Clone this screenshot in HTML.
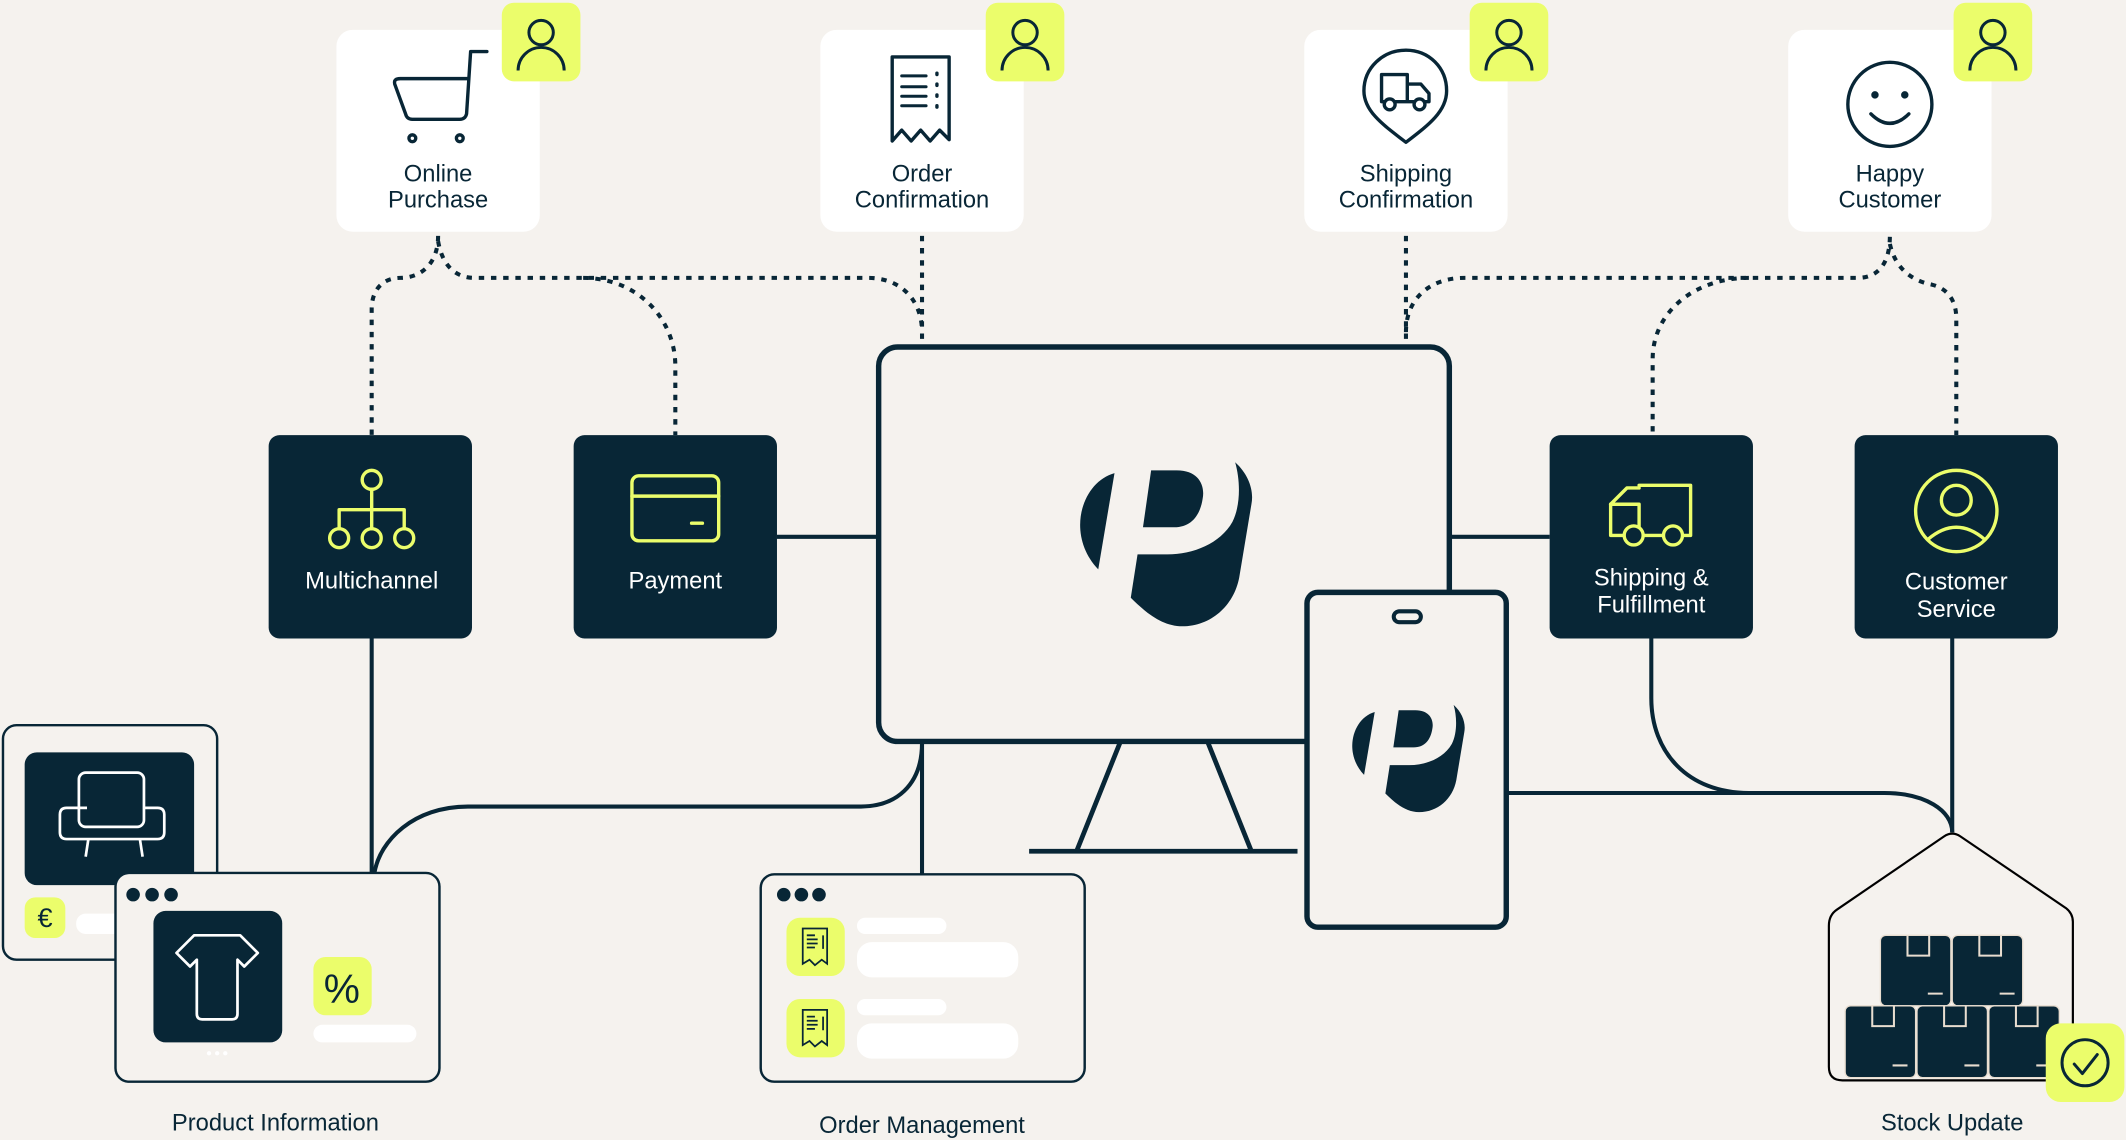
<!DOCTYPE html>
<html><head><meta charset="utf-8"><style>
html,body{margin:0;padding:0;background:#f5f2ee;}
svg{display:block;}
text{font-family:"Liberation Sans",sans-serif;}
</style></head><body>
<svg width="2126" height="1140" viewBox="0 0 1568 841" xmlns="http://www.w3.org/2000/svg" fill="#082636">
<rect width="1568" height="841" fill="#f5f2ee"/>
<defs>
<g id="user"><rect x="0" y="0" width="58" height="58" rx="9" fill="#ebfd6b"/><circle cx="29" cy="22" r="9" fill="none" stroke="#082636" stroke-width="2.2"/><path d="M12,50 A17,17 0 0 1 46,50" fill="none" stroke="#082636" stroke-width="2.2"/></g>
<g id="logo">
<path d="M822,349 C797,356 786,395 810,420 Z" fill="#082636"/>
<path d="M849,347 L868,347 C884,347 889,358 887,368 C885,381 878,389 866,389 L843,389 Z" fill="#082636"/>
<path d="M839,409 L861,409 C880,409 900,401 909,385 C915,373 915,355 911,341 C921,350 925,362 923,372 L914,426 C910,447 893,462 872,462 C858,462 846,453 834,441 Z" fill="#082636"/>
</g>
</defs>

<!-- dotted connectors -->
<g fill="none" stroke="#082636" stroke-width="3" stroke-dasharray="4,5">
<path d="M323,174 C323,195 310,205 295,205 C282,205 274,214 274,228 L274,321"/>
<path d="M323,178 C326,195 335,205 350,205 L640,205 C665,205 680,222 680,245"/>
<path d="M430,205 C470,205 498,235 498,270 L498,321"/>
<path d="M680,174 L680,255"/>
<path d="M1037,174 L1037,255"/>
<path d="M1037,245 C1037,220 1055,205 1080,205 L1370,205 C1385,205 1394,195 1394,174"/>
<path d="M1290,205 C1250,205 1219,230 1219,265 L1219,321"/>
<path d="M1394,180 C1398,198 1410,207 1425,210 C1437,213 1443,222 1443,235 L1443,321"/>
</g>

<!-- solid connectors -->
<g fill="none" stroke="#082636" stroke-width="3">
<path d="M573,396 L647,396"/>
<path d="M1070,396 L1143,396"/>
<path d="M274,471 L274,644"/>
<path d="M680,548 C680,580 660,595 635,595 L345,595 C305,595 280,620 276,644"/>
<path d="M680,548 L680,645"/>
<path d="M1111,585 L1290,585"/>
<path d="M1218,471 L1218,515 C1218,555 1245,585 1290,585 L1390,585 C1420,585 1440,598 1440,614"/>
<path d="M1440,471 L1440,614"/>
</g>

<!-- top cards -->
<g>
<rect x="248" y="22" width="150" height="149" rx="12" fill="#fff"/>
<rect x="605" y="22" width="150" height="149" rx="12" fill="#fff"/>
<rect x="962" y="22" width="150" height="149" rx="12" fill="#fff"/>
<rect x="1319" y="22" width="150" height="149" rx="12" fill="#fff"/>
<use href="#user" x="370" y="2"/>
<use href="#user" x="727" y="2"/>
<use href="#user" x="1084" y="2"/>
<use href="#user" x="1441" y="2"/>
</g>
<g fill="none" stroke="#082636" stroke-width="2.5" stroke-linecap="round" stroke-linejoin="round">
<!-- cart -->
<path d="M359,38 L347,38 L344,84 Q343,88 339,88 L304,88 Q300,88 299,84 L291,62 Q290,58 295,58 L345,58"/>
<circle cx="304" cy="102" r="2.5"/>
<circle cx="339" cy="102" r="2.5"/>
<!-- receipt -->
<path d="M658,42 L700,42 L700,103 L693,96 L686,104 L679,96 L672,104 L665,96 L658,104 Z"/>
<path d="M665,56 L683,56 M665,64 L683,64 M665,71 L683,71 M665,78 L683,78" stroke-width="2.2"/>
<path d="M691,54 L691,55 M691,62 L691,63 M691,70 L691,71 M691,78 L691,79" stroke-width="2.5"/>
<!-- shipping pin -->
<path d="M1037,105 C1020,92 1006,82 1006,67 C1006,50 1020,37 1037,37 C1054,37 1067,50 1067,67 C1067,82 1054,92 1037,105 Z"/>
<path d="M1019,55 L1038,55 L1038,75 L1019,75 Z M1038,62 L1048,62 L1054,69 L1054,75 L1038,75"/>
<circle cx="1025" cy="77" r="4" fill="#fff"/><circle cx="1047" cy="77" r="4" fill="#fff"/>
<!-- smiley -->
<circle cx="1394" cy="77" r="31"/>
<circle cx="1383" cy="70" r="1.5" fill="#082636"/><circle cx="1405" cy="70" r="1.5" fill="#082636"/>
<path d="M1380,84 Q1394,98 1408,84"/>
</g>
<g font-size="17.5" text-anchor="middle" style="fill:#082636">
<text x="323" y="134">Online</text><text x="323" y="153">Purchase</text>
<text x="680" y="134">Order</text><text x="680" y="153">Confirmation</text>
<text x="1037" y="134">Shipping</text><text x="1037" y="153">Confirmation</text>
<text x="1394" y="134">Happy</text><text x="1394" y="153">Customer</text>
</g>

<!-- dark boxes -->
<g fill="#082636">
<rect x="198" y="321" width="150" height="150" rx="8"/>
<rect x="423" y="321" width="150" height="150" rx="8"/>
<rect x="1143" y="321" width="150" height="150" rx="8"/>
<rect x="1368" y="321" width="150" height="150" rx="8"/>
</g>
<g fill="none" stroke="#ebfd6b" stroke-width="2.5" stroke-linecap="round" stroke-linejoin="round">
<circle cx="274" cy="354" r="7"/>
<path d="M274,361 L274,376 M250,390 L250,376 L298,376 L298,390 M274,376 L274,390"/>
<circle cx="250" cy="397" r="7"/><circle cx="274" cy="397" r="7"/><circle cx="298" cy="397" r="7"/>
<rect x="466" y="351" width="64" height="48" rx="5"/>
<path d="M466,366 L530,366 M510,386 L518,386"/>
<path d="M1188,372 L1209,372 L1209,395 L1188,395 Z M1209,358 L1247,358 L1247,395 L1209,395"/>
<path d="M1188,372 L1200,360 L1209,360"/>
<circle cx="1205" cy="395" r="7" fill="#082636"/><circle cx="1234" cy="395" r="7" fill="#082636"/>
<circle cx="1443" cy="377" r="30"/>
<circle cx="1443" cy="369" r="11"/>
<path d="M1422,398 Q1443,380 1464,398"/>
</g>
<g font-size="17.5" text-anchor="middle" style="fill:#ffffff">
<text x="274" y="434">Multichannel</text>
<text x="498" y="434">Payment</text>
<text x="1218" y="432">Shipping &amp;</text>
<text x="1218" y="452">Fulfillment</text>
<text x="1443" y="435">Customer</text>
<text x="1443" y="455">Service</text>
</g>

<!-- monitor -->
<rect x="648" y="256" width="421" height="291" rx="14" fill="#f5f2ee" stroke="#082636" stroke-width="4"/>
<path d="M826,548 L794,628 M891,548 L923,628 M759,628 L957,628" stroke="#082636" stroke-width="3.5" fill="none"/>
<use href="#logo"/>
<!-- phone -->
<rect x="964" y="437" width="147" height="247" rx="8" fill="#f5f2ee" stroke="#082636" stroke-width="4"/>
<rect x="1028" y="451" width="20" height="8" rx="4" fill="none" stroke="#082636" stroke-width="3"/>
<use href="#logo" transform="translate(995,520) scale(0.654) translate(-793,-341)"/>

<!-- product information -->
<rect x="2" y="535" width="158" height="173" rx="10" fill="#f5f2ee" stroke="#082636" stroke-width="1.8"/>
<rect x="18" y="555" width="125" height="98" rx="9" fill="#082636"/>
<g fill="none" stroke="#fff" stroke-width="2" stroke-linejoin="round">
<rect x="58" y="570" width="48" height="40" rx="5"/>
<path d="M58,596 L64,596 M58,596 L49,596 Q44,596 44,601 L44,614 Q44,619 49,619 L116,619 Q121,619 121,614 L121,601 Q121,596 116,596 L106,596"/>
<path d="M65,619 L63,632 M103,619 L105,632"/>
</g>
<rect x="18" y="662" width="30" height="30" rx="8" fill="#ebfd6b"/>
<text x="33" y="684" font-size="20" text-anchor="middle" style="fill:#082636">€</text>
<rect x="56" y="674" width="40" height="15" rx="7" fill="#fff"/>
<rect x="85" y="644" width="239" height="154" rx="10" fill="#f5f2ee" stroke="#082636" stroke-width="1.8"/>
<circle cx="98" cy="660" r="5" fill="#082636"/><circle cx="112" cy="660" r="5" fill="#082636"/><circle cx="126" cy="660" r="5" fill="#082636"/>
<rect x="113" y="672" width="95" height="97" rx="9" fill="#082636"/>
<path d="M143,690 L177,690 L190,703 L180,713 L175,708 L175,748 Q175,752 171,752 L149,752 Q145,752 145,748 L145,708 L140,713 L130,703 Z" fill="none" stroke="#fff" stroke-width="2" stroke-linejoin="round"/>
<circle cx="154" cy="777" r="1.6" fill="#fff"/><circle cx="160" cy="777" r="1.6" fill="#fff"/><circle cx="166" cy="777" r="1.6" fill="#fff"/>
<rect x="231" y="706" width="43" height="43" rx="9" fill="#ebfd6b"/>
<text x="252" y="740" font-size="30" text-anchor="middle" style="fill:#082636">%</text>
<rect x="231" y="756" width="76" height="13" rx="6.5" fill="#fff"/>
<text x="203" y="834" font-size="17.5" text-anchor="middle" style="fill:#082636">Product Information</text>

<!-- order management -->
<rect x="561" y="645" width="239" height="153" rx="10" fill="#f5f2ee" stroke="#082636" stroke-width="1.8"/>
<circle cx="578" cy="660" r="5" fill="#082636"/><circle cx="591" cy="660" r="5" fill="#082636"/><circle cx="604" cy="660" r="5" fill="#082636"/>
<g>
<rect x="580" y="677" width="43" height="43" rx="10" fill="#ebfd6b"/>
<rect x="580" y="737" width="43" height="43" rx="10" fill="#ebfd6b"/>
<g fill="none" stroke="#082636" stroke-width="1.3">
<path d="M592,685 L610,685 L610,711 L606,708 L601,712 L597,708 L592,711 Z"/>
<path d="M595,690 L601,690 M595,693 L603,693 M595,696 L603,696 M595,699 L601,699 M607,690 L607,700" />
<path d="M592,745 L610,745 L610,771 L606,768 L601,772 L597,768 L592,771 Z"/>
<path d="M595,750 L601,750 M595,753 L603,753 M595,756 L603,756 M595,759 L601,759 M607,750 L607,760"/>
</g>
<rect x="632" y="677" width="66" height="12" rx="6" fill="#fff"/>
<rect x="632" y="695" width="119" height="26" rx="11" fill="#fff"/>
<rect x="632" y="737" width="66" height="12" rx="6" fill="#fff"/>
<rect x="632" y="755" width="119" height="26" rx="11" fill="#fff"/>
</g>
<text x="680" y="836" font-size="17.5" text-anchor="middle" style="fill:#082636">Order Management</text>

<!-- stock update -->
<path d="M1355,671 L1434,617 Q1440,613 1446,617 L1524,670 Q1529,674 1529,680 L1529,787 Q1529,797 1519,797 L1359,797 Q1349,797 1349,787 L1349,683 Q1349,675 1355,671 Z" fill="#f5f2ee" stroke="#000" stroke-width="1.6"/>
<g fill="#082636" stroke="#e8ddd0" stroke-width="1">
<rect x="1387" y="690" width="52" height="52" rx="4"/>
<rect x="1440" y="690" width="52" height="52" rx="4"/>
<rect x="1361" y="742" width="52" height="53" rx="4"/>
<rect x="1414" y="742" width="52" height="53" rx="4"/>
<rect x="1467" y="742" width="52" height="53" rx="4"/>
</g>
<g fill="none" stroke="#e8ddd0" stroke-width="1.5">
<path d="M1407,690 L1407,705 L1423,705 L1423,690 M1422,733 L1433,733"/>
<path d="M1460,690 L1460,705 L1476,705 L1476,690 M1475,733 L1486,733"/>
<path d="M1381,742 L1381,757 L1397,757 L1397,742 M1396,786 L1407,786"/>
<path d="M1434,742 L1434,757 L1450,757 L1450,742 M1449,786 L1460,786"/>
<path d="M1487,742 L1487,757 L1503,757 L1503,742 M1502,786 L1513,786"/>
</g>
<rect x="1509" y="755" width="58" height="58" rx="11" fill="#ebfd6b"/>
<circle cx="1538" cy="784" r="17" fill="none" stroke="#082636" stroke-width="2.2"/>
<path d="M1530,785 L1536,792 L1547,778" fill="none" stroke="#082636" stroke-width="2.2" stroke-linecap="round" stroke-linejoin="round"/>
<text x="1440" y="834" font-size="17.5" text-anchor="middle" style="fill:#082636">Stock Update</text>
</svg>
</body></html>
